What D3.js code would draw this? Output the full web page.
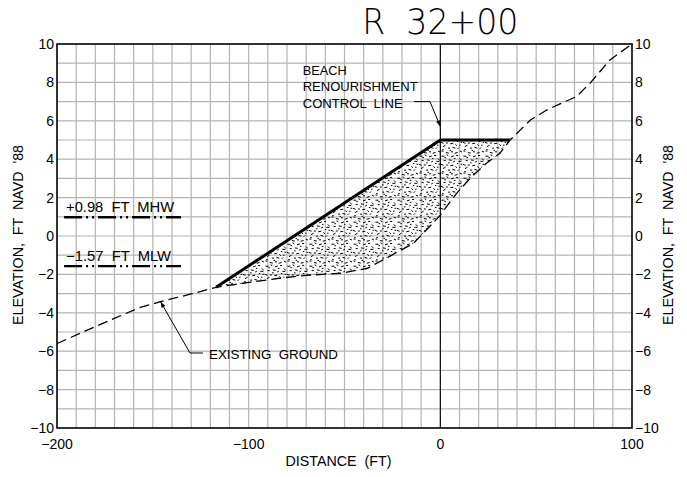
<!DOCTYPE html>
<html>
<head>
<meta charset="utf-8">
<script src="https://cdn.jsdelivr.net/npm/d3@7"></script>
<style>
  html, body { margin: 0; padding: 0; background: #fff; }
  svg { display: block; font-family: "Liberation Sans", Arial, sans-serif; }
  svg text { white-space: pre; }
</style>
</head>
<body>
<svg id="chart" width="687" height="477"></svg>
<script>
// ---------- data ----------
const groundX = [-200, -180, -157, -146, -130, -117, -100, -84, -70, -52, -38, -30, -14, -4, 0, 3, 8.5, 15.5, 24, 31, 36.4, 47, 55.5, 62.4, 71, 78, 88.5, 100];
const groundY = [-5.6, -4.72, -3.73, -3.42, -3.02, -2.67, -2.42, -2.2, -2.05, -1.94, -1.68, -1.25, -0.38, 0.66, 1.09, 1.5, 2.22, 3.0, 3.79, 4.3, 5.0, 6.04, 6.56, 6.88, 7.26, 7.95, 9.17, 10];
const designX = [-117, 0, 36.4];
const designY = [-2.67, 5.0, 5.0];
const xTicks = [-200, -100, 0, 100];
const yTicks = [-10, -8, -6, -4, -2, 0, 2, 4, 6, 8, 10];
const tideNames = ["+0.98  FT  MHW", "\u22121.57  FT  MLW"];
const tideLevels = [0.98, -1.57];
const tideExtent = [-196.3, -135.3];
const title = "R  32+00";
const xTitle = "DISTANCE  (FT)";
const yTitle = "ELEVATION,  FT  NAVD  '88";
const controlLabel = ["BEACH", "RENOURISHMENT", "CONTROL  LINE"];
const groundLabel = "EXISTING  GROUND";

// ---------- setup ----------
const svg = d3.select("#chart");
const L = 57, R = 632, T = 44, B = 428;
const x = d3.scaleLinear().domain([-200, 100]).range([L, R]);
const y = d3.scaleLinear().domain([-10, 10]).range([B, T]);
const fmt = v => (v < 0 ? "\u2212" + Math.abs(v) : String(v));

// stipple pattern (texture only)
const marks = [[2,3,3,0],[9,1,2,30],[15,4,3,-20],[22,2,2,0],[27,6,3,45],[5,9,2,0],[12,8,3,10],[18,11,2,-30],[25,10,3,0],[1,14,3,20],[8,15,2,0],[14,16,3,-10],[21,17,2,40],[28,14,2,0],[4,20,3,-30],[11,22,2,0],[17,21,3,15],[24,23,2,-45],[2,26,2,0],[8,28,3,10],[15,27,2,0],[20,29,3,-15],[27,26,3,25],[6,5,1.5,0],[19,6,1.5,0],[11,12,1.5,0],[26,18,1.5,0],[13,25,1.5,0],[23,13,1.5,0],[3,24,1.5,0]];
const PS = 22, sc = PS / 30;
const defs = svg.append("defs");
const pat = defs.append("pattern").attr("id", "stip").attr("patternUnits", "userSpaceOnUse")
  .attr("width", PS).attr("height", PS);
marks.forEach(m => {
  const a = m[3] * Math.PI / 180;
  pat.append("line")
    .attr("x1", m[0] * sc).attr("y1", m[1] * sc)
    .attr("x2", m[0] * sc + m[2] * Math.cos(a)).attr("y2", m[1] * sc + m[2] * Math.sin(a))
    .attr("stroke", "#000").attr("stroke-width", 1);
});
defs.append("marker").attr("id", "arrow").attr("viewBox", "0 0 10 10")
  .attr("refX", 10).attr("refY", 5).attr("markerWidth", 9).attr("markerHeight", 6)
  .attr("markerUnits", "userSpaceOnUse").attr("orient", "auto")
  .append("path").attr("d", "M0,1.5 L10,5 L0,8.5 Z").attr("fill", "#000");

// ---------- grid ----------
const grid = svg.append("g").attr("stroke", "#b4b4b4").attr("stroke-width", 1.2);
grid.selectAll(".gv").data(d3.range(-190, 100, 10)).join("line")
  .attr("x1", d => x(d)).attr("x2", d => x(d)).attr("y1", T).attr("y2", B);
grid.selectAll(".gh").data(d3.range(-9, 10, 1)).join("line")
  .attr("y1", d => y(d)).attr("y2", d => y(d)).attr("x1", L).attr("x2", R);

// ---------- fill ----------
const ground = groundX.map((v, i) => [v, groundY[i]]);
const design = designX.map((v, i) => [v, designY[i]]);
const under = ground.filter(p => p[0] > designX[0] && p[0] < designX[2]).reverse();
const poly = design.concat(under);
svg.append("path")
  .attr("d", d3.line().x(d => x(d[0])).y(d => y(d[1]))(poly) + "Z")
  .attr("fill", "url(#stip)").attr("stroke", "none");

// control line
svg.append("line").attr("x1", x(0)).attr("x2", x(0)).attr("y1", T).attr("y2", B)
  .attr("stroke", "#000").attr("stroke-width", 1.1);

// ground
svg.append("path")
  .attr("d", d3.line().x(d => x(d[0])).y(d => y(d[1]))(ground))
  .attr("fill", "none").attr("stroke", "#000").attr("stroke-width", 1.3)
  .attr("stroke-dasharray", "10,5");

// design profile
svg.append("path")
  .attr("d", d3.line().x(d => x(d[0])).y(d => y(d[1]))(design))
  .attr("fill", "none").attr("stroke", "#000").attr("stroke-width", 3)
  .attr("stroke-linejoin", "miter");

// border
svg.append("rect").attr("x", L).attr("y", T).attr("width", R - L).attr("height", B - T)
  .attr("fill", "none").attr("stroke", "#000").attr("stroke-width", 1.6);

// ---------- tick labels ----------
const tl = svg.append("g").attr("font-size", 14).attr("fill", "#000");
tl.selectAll(".yl").data(yTicks).join("text")
  .attr("x", L - 3).attr("y", d => y(d)).attr("dy", "0.36em")
  .attr("text-anchor", "end").text(fmt);
tl.selectAll(".yr").data(yTicks).join("text")
  .attr("x", R + 3).attr("y", d => y(d)).attr("dy", "0.36em")
  .attr("text-anchor", "start").text(fmt);
tl.selectAll(".xl").data(xTicks).join("text")
  .attr("x", d => x(d)).attr("y", B + 21)
  .attr("text-anchor", "middle").text(fmt);

// axis titles
svg.append("text").attr("x", (L + R) / 2 - 6).attr("y", 466).attr("text-anchor", "middle")
  .attr("font-size", 14.5).attr("textLength", 106).attr("lengthAdjust", "spacingAndGlyphs").text(xTitle);
[18, 668].forEach(cx => {
  svg.append("text").attr("transform", `translate(${cx},${(T + B) / 2 - 1}) rotate(-90)`)
    .attr("text-anchor", "middle").attr("dy", "0.36em")
    .attr("font-size", 15).attr("textLength", 180).attr("lengthAdjust", "spacingAndGlyphs").text(yTitle);
});

// title
svg.append("text").attr("x", x(0)).attr("y", 34).attr("text-anchor", "middle")
  .style("font-family", "'DejaVu Sans ExtraLight', 'DejaVu Sans', sans-serif")
  .attr("font-size", 35).attr("font-weight", 200).attr("textLength", 156)
  .attr("lengthAdjust", "spacingAndGlyphs").text(title);

// ---------- tide lines ----------
tideLevels.forEach((lv, i) => {
  svg.append("line").attr("x1", x(tideExtent[0])).attr("x2", x(tideExtent[1]))
    .attr("y1", y(lv)).attr("y2", y(lv))
    .attr("stroke", "#000").attr("stroke-width", 2.4).attr("stroke-dasharray", "18,4,2,4,2,4");
  svg.append("text").attr("x", x(tideExtent[0]) + 2).attr("y", y(lv) - 5)
    .attr("font-size", 14).attr("textLength", i === 0 ? 108 : 105)
    .attr("lengthAdjust", "spacingAndGlyphs").text(tideNames[i]);
});

// ---------- annotations ----------
const ann = svg.append("g").attr("font-size", 13.5);
controlLabel.forEach((t, i) => {
  ann.append("text").attr("x", x(-71.8)).attr("y", 75 + i * 16.4)
    .attr("textLength", [44, 115, 100][i]).attr("lengthAdjust", "spacingAndGlyphs").text(t);
});
svg.append("path")
  .attr("d", `M${x(-13.7)},${y(7.0)} L${x(-5.4)},${y(7.0)} L${x(0)},${y(5.7)}`)
  .attr("fill", "none").attr("stroke", "#000").attr("stroke-width", 1)
  .attr("marker-end", "url(#arrow)");

ann.append("text").attr("x", 209).attr("y", 359)
  .attr("textLength", 129).attr("lengthAdjust", "spacingAndGlyphs").text(groundLabel);
svg.append("path")
  .attr("d", `M203,${353} L190,${353} L${x(-146)},${y(-3.42)}`)
  .attr("fill", "none").attr("stroke", "#000").attr("stroke-width", 1)
  .attr("marker-end", "url(#arrow)");
</script>
</body>
</html>
